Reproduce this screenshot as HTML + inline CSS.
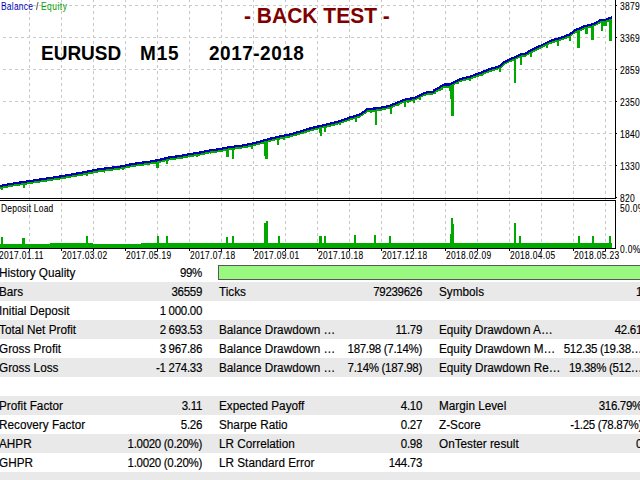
<!DOCTYPE html>
<html><head><meta charset="utf-8"><style>
html,body{margin:0;padding:0;background:#fff;width:640px;height:480px;overflow:hidden;position:relative}
body{font-family:"Liberation Sans",sans-serif;color:#000}
.lb,.vl{-webkit-text-stroke:0.15px #000}
.ax,.dt,.dl{-webkit-text-stroke:0.1px #000}
svg{position:absolute;left:0;top:0}
.ax{position:absolute;left:620px;font-size:10.2px;letter-spacing:0.4px;line-height:12px;white-space:nowrap;transform:scaleX(0.83);transform-origin:0 0}
.dt{position:absolute;top:250px;font-size:10px;letter-spacing:0.4px;line-height:12px;white-space:nowrap;transform:scaleX(0.84);transform-origin:0 0}
.row{position:absolute;left:0;width:640px;height:19px}
.lb{position:absolute;font-size:11.75px;line-height:19px;white-space:nowrap;transform:scaleY(1.125);transform-origin:0 14px}
.vl{position:absolute;width:200px;text-align:right;font-size:11.5px;letter-spacing:-0.3px;line-height:19px;white-space:nowrap;transform:scaleY(1.125);transform-origin:0 14px;margin-top:1px}
.leg{position:absolute;left:1px;top:1px;font-size:10px;line-height:12px;white-space:nowrap;transform:scaleX(0.84);transform-origin:0 0}
.dl{position:absolute;left:1px;top:203px;font-size:10px;letter-spacing:0.3px;line-height:12px;white-space:nowrap;transform:scaleX(0.84);transform-origin:0 0}
.t1{position:absolute;left:244px;top:3px;font-size:21px;font-weight:bold;color:#800000;line-height:24px;white-space:pre;transform:scaleY(1.07);transform-origin:0 8px}
.t2{position:absolute;left:41px;top:42px;font-size:19px;font-weight:bold;line-height:22px;white-space:pre;transform:scaleY(1.077);transform-origin:0 4px}
.bar{position:absolute;left:218px;top:265px;width:430px;height:13px;background:#98f880;border:1px solid #585858}
</style></head><body>
<svg width="640" height="263" viewBox="0 0 640 263" shape-rendering="crispEdges">
<line x1="0" y1="5.5" x2="615" y2="5.5" stroke="#c8c8c8" stroke-dasharray="3 3" stroke-dashoffset="-3"/>
<line x1="0" y1="37.5" x2="615" y2="37.5" stroke="#c8c8c8" stroke-dasharray="3 3" stroke-dashoffset="-3"/>
<line x1="0" y1="69.5" x2="615" y2="69.5" stroke="#c8c8c8" stroke-dasharray="3 3" stroke-dashoffset="-3"/>
<line x1="0" y1="101.5" x2="615" y2="101.5" stroke="#c8c8c8" stroke-dasharray="3 3" stroke-dashoffset="-3"/>
<line x1="0" y1="133.5" x2="615" y2="133.5" stroke="#c8c8c8" stroke-dasharray="3 3" stroke-dashoffset="-3"/>
<line x1="0" y1="165.5" x2="615" y2="165.5" stroke="#c8c8c8" stroke-dasharray="3 3" stroke-dashoffset="-3"/>
<line x1="29.5" y1="-1" x2="29.5" y2="248" stroke="#c8c8c8" stroke-dasharray="3 3"/>
<line x1="61.5" y1="-1" x2="61.5" y2="248" stroke="#c8c8c8" stroke-dasharray="3 3"/>
<line x1="93.5" y1="-1" x2="93.5" y2="248" stroke="#c8c8c8" stroke-dasharray="3 3"/>
<line x1="125.5" y1="-1" x2="125.5" y2="248" stroke="#c8c8c8" stroke-dasharray="3 3"/>
<line x1="157.5" y1="-1" x2="157.5" y2="248" stroke="#c8c8c8" stroke-dasharray="3 3"/>
<line x1="189.5" y1="-1" x2="189.5" y2="248" stroke="#c8c8c8" stroke-dasharray="3 3"/>
<line x1="221.5" y1="-1" x2="221.5" y2="248" stroke="#c8c8c8" stroke-dasharray="3 3"/>
<line x1="253.5" y1="-1" x2="253.5" y2="248" stroke="#c8c8c8" stroke-dasharray="3 3"/>
<line x1="285.5" y1="-1" x2="285.5" y2="248" stroke="#c8c8c8" stroke-dasharray="3 3"/>
<line x1="317.5" y1="-1" x2="317.5" y2="248" stroke="#c8c8c8" stroke-dasharray="3 3"/>
<line x1="349.5" y1="-1" x2="349.5" y2="248" stroke="#c8c8c8" stroke-dasharray="3 3"/>
<line x1="381.5" y1="-1" x2="381.5" y2="248" stroke="#c8c8c8" stroke-dasharray="3 3"/>
<line x1="413.5" y1="-1" x2="413.5" y2="248" stroke="#c8c8c8" stroke-dasharray="3 3"/>
<line x1="445.5" y1="-1" x2="445.5" y2="248" stroke="#c8c8c8" stroke-dasharray="3 3"/>
<line x1="477.5" y1="-1" x2="477.5" y2="248" stroke="#c8c8c8" stroke-dasharray="3 3"/>
<line x1="509.5" y1="-1" x2="509.5" y2="248" stroke="#c8c8c8" stroke-dasharray="3 3"/>
<line x1="541.5" y1="-1" x2="541.5" y2="248" stroke="#c8c8c8" stroke-dasharray="3 3"/>
<line x1="573.5" y1="-1" x2="573.5" y2="248" stroke="#c8c8c8" stroke-dasharray="3 3"/>
<line x1="605.5" y1="-1" x2="605.5" y2="248" stroke="#c8c8c8" stroke-dasharray="3 3"/>
<polygon points="0,186 10,184 20,182.5 30,181 40,179.5 50,178 60,176.5 70,174.75 80,173 90,171 100,169.1 110,167.9 120,166.6 130,164.5 140,162.9 150,161.6 160,159.75 170,157.25 180,156 190,154.1 200,152.5 210,150.4 220,149.1 230,147 240,145.9 250,144.1 260,141.6 270,138.75 280,136.4 290,134.5 300,131.6 310,128.5 320,126 330,123.75 340,121 350,117.5 360,114.5 365,111 367,109.1 375,108.5 380,107.9 390,105.75 400,101.5 404,99.9 408,99 414,98 418,96.2 424,93 428,92.1 433,92.1 434,90.25 438,88.4 442,85.6 445,84.5 450,84.5 455,81.6 460,79.1 470,76.6 480,73 490,69.1 500,66 505,61.6 510,59.1 515,57.25 520,54.5 525,54.1 530,50.75 540,46 550,41 560,38 565,36.3 570,34.25 575,30.2 580,28.3 585,26 590,25 595,23.2 600,20.4 605,19.9 610,18 612,17.4 612,20.4 610,21 605,22.9 600,23.4 595,26.2 590,28 585,29 580,31.3 575,33.2 570,37.25 565,39.3 560,41 550,44 540,49 530,53.75 525,57.1 520,57.5 515,60.25 510,62.1 505,64.6 500,69 490,72.1 480,76 470,79.6 460,82.1 455,84.6 450,87.5 445,87.5 442,88.6 438,91.4 434,93.25 433,95.1 428,95.1 424,96 418,99.2 414,101 408,102 404,102.9 400,104.5 390,108.75 380,110.9 375,111.5 367,112.1 365,114 360,117.5 350,120.5 340,124 330,126.75 320,129 310,131.5 300,134.6 290,137.5 280,139.4 270,141.75 260,144.6 250,147.1 240,148.9 230,150 220,152.1 210,153.4 200,155.5 190,157.1 180,159 170,160.25 160,162.75 150,164.6 140,165.9 130,167.5 120,169.6 110,170.9 100,172.1 90,174 80,176 70,177.75 60,179.5 50,181 40,182.5 30,184 20,185.5 10,187 0,189" fill="#00a800"/>
<rect x="1" y="185.80" width="2" height="4.20" fill="#00a800"/>
<rect x="23" y="182.05" width="2" height="5.95" fill="#00a800"/>
<rect x="31" y="180.85" width="2" height="3.15" fill="#00a800"/>
<rect x="86" y="171.80" width="2" height="4.20" fill="#00a800"/>
<rect x="90" y="171.00" width="1" height="3.00" fill="#00a800"/>
<rect x="104" y="168.62" width="1" height="3.88" fill="#00a800"/>
<rect x="122" y="166.18" width="2" height="3.32" fill="#00a800"/>
<rect x="143" y="162.51" width="1" height="3.49" fill="#00a800"/>
<rect x="156" y="160.49" width="3" height="7.01" fill="#00a800"/>
<rect x="166" y="158.25" width="2" height="5.50" fill="#00a800"/>
<rect x="175" y="156.62" width="1" height="2.88" fill="#00a800"/>
<rect x="182" y="155.62" width="1" height="2.98" fill="#00a800"/>
<rect x="196" y="153.14" width="2" height="3.86" fill="#00a800"/>
<rect x="210" y="150.40" width="1" height="4.00" fill="#00a800"/>
<rect x="226" y="147.84" width="3" height="9.16" fill="#00a800"/>
<rect x="232" y="146.78" width="2" height="11.97" fill="#00a800"/>
<rect x="251" y="143.85" width="2" height="4.65" fill="#00a800"/>
<rect x="264" y="140.46" width="1" height="15.14" fill="#00a800"/>
<rect x="265" y="140.18" width="3" height="18.57" fill="#00a800"/>
<rect x="274" y="137.81" width="1" height="1.19" fill="#00a800"/>
<rect x="277" y="137.11" width="2" height="7.64" fill="#00a800"/>
<rect x="283" y="135.83" width="2" height="3.92" fill="#00a800"/>
<rect x="298" y="132.18" width="2" height="2.32" fill="#00a800"/>
<rect x="309" y="128.81" width="2" height="2.59" fill="#00a800"/>
<rect x="319" y="126.25" width="1" height="6.25" fill="#00a800"/>
<rect x="320" y="126.00" width="2" height="9.60" fill="#00a800"/>
<rect x="324" y="125.10" width="2" height="6.90" fill="#00a800"/>
<rect x="339" y="121.28" width="2" height="3.47" fill="#00a800"/>
<rect x="355" y="116.00" width="2" height="5.50" fill="#00a800"/>
<rect x="370" y="108.88" width="2" height="3.62" fill="#00a800"/>
<rect x="375" y="108.50" width="2" height="16.25" fill="#00a800"/>
<rect x="390" y="105.75" width="2" height="8.65" fill="#00a800"/>
<rect x="398" y="102.35" width="1" height="3.65" fill="#00a800"/>
<rect x="404" y="99.90" width="2" height="6.85" fill="#00a800"/>
<rect x="407" y="99.22" width="2" height="3.48" fill="#00a800"/>
<rect x="413" y="98.17" width="2" height="4.53" fill="#00a800"/>
<rect x="419" y="95.67" width="2" height="3.93" fill="#00a800"/>
<rect x="434" y="90.25" width="2" height="3.35" fill="#00a800"/>
<rect x="438" y="88.40" width="3" height="3.00" fill="#00a800"/>
<rect x="441" y="86.30" width="2" height="3.30" fill="#00a800"/>
<rect x="445" y="84.50" width="8" height="3.90" fill="#00a800"/>
<rect x="449" y="84.50" width="4" height="6.50" fill="#00a800"/>
<rect x="450" y="84.50" width="4" height="14.50" fill="#00a800"/>
<rect x="451" y="83.92" width="3" height="32.48" fill="#00a800"/>
<rect x="457" y="80.60" width="2" height="3.15" fill="#00a800"/>
<rect x="469" y="76.85" width="2" height="4.40" fill="#00a800"/>
<rect x="472" y="75.88" width="1" height="2.12" fill="#00a800"/>
<rect x="481" y="72.61" width="2" height="3.64" fill="#00a800"/>
<rect x="491" y="68.79" width="1" height="2.21" fill="#00a800"/>
<rect x="499" y="66.31" width="2" height="5.19" fill="#00a800"/>
<rect x="510" y="59.10" width="6" height="0.90" fill="#00a800"/>
<rect x="514" y="57.62" width="2" height="24.88" fill="#00a800"/>
<rect x="520" y="54.50" width="2" height="10.25" fill="#00a800"/>
<rect x="530" y="50.75" width="2" height="5.75" fill="#00a800"/>
<rect x="546" y="43.00" width="2" height="4.50" fill="#00a800"/>
<rect x="557" y="38.90" width="2" height="6.70" fill="#00a800"/>
<rect x="569" y="34.66" width="2" height="5.84" fill="#00a800"/>
<rect x="577" y="29.44" width="3" height="18.16" fill="#00a800"/>
<rect x="585" y="26.00" width="3" height="7.75" fill="#00a800"/>
<rect x="591" y="24.64" width="3" height="15.06" fill="#00a800"/>
<rect x="601" y="20.30" width="2" height="10.30" fill="#00a800"/>
<rect x="601" y="20.30" width="6" height="5.70" fill="#00a800"/>
<rect x="609" y="18.38" width="3" height="22.12" fill="#00a800"/>
<polyline points="0,186 10,184 20,182.5 30,181 40,179.5 50,178 60,176.5 70,174.75 80,173 90,171 100,169.1 110,167.9 120,166.6 130,164.5 140,162.9 150,161.6 160,159.75 170,157.25 180,156 190,154.1 200,152.5 210,150.4 220,149.1 230,147 240,145.9 250,144.1 260,141.6 270,138.75 280,136.4 290,134.5 300,131.6 310,128.5 320,126 330,123.75 340,121 350,117.5 360,114.5 365,111 367,109.1 375,108.5 380,107.9 390,105.75 400,101.5 404,99.9 408,99 414,98 418,96.2 424,93 428,92.1 433,92.1 434,90.25 438,88.4 442,85.6 445,84.5 450,84.5 455,81.6 460,79.1 470,76.6 480,73 490,69.1 500,66 505,61.6 510,59.1 515,57.25 520,54.5 525,54.1 530,50.75 540,46 550,41 560,38 565,36.3 570,34.25 575,30.2 580,28.3 585,26 590,25 595,23.2 600,20.4 605,19.9 610,18 612,17.4" fill="none" stroke="#0000b4" stroke-width="2.2" stroke-linejoin="round"/>
<rect x="0" y="244" width="50" height="4" fill="#00a800"/>
<rect x="50" y="243" width="43" height="5" fill="#00a800"/>
<rect x="93" y="244" width="48" height="4" fill="#00a800"/>
<rect x="141" y="243" width="471" height="5" fill="#00a800"/>
<rect x="1" y="237" width="2" height="11" fill="#00a800"/>
<rect x="22" y="238" width="3" height="10" fill="#00a800"/>
<rect x="86" y="236" width="2" height="12" fill="#00a800"/>
<rect x="157" y="236" width="2" height="12" fill="#00a800"/>
<rect x="166" y="236" width="2" height="12" fill="#00a800"/>
<rect x="226" y="237" width="2" height="11" fill="#00a800"/>
<rect x="232" y="236" width="2" height="12" fill="#00a800"/>
<rect x="264" y="223" width="2" height="25" fill="#00a800"/>
<rect x="266" y="221" width="2" height="27" fill="#00a800"/>
<rect x="278" y="236" width="2" height="12" fill="#00a800"/>
<rect x="319" y="236" width="2" height="12" fill="#00a800"/>
<rect x="321" y="236" width="1" height="12" fill="#00a800"/>
<rect x="324" y="236" width="2" height="12" fill="#00a800"/>
<rect x="354" y="235" width="2" height="13" fill="#00a800"/>
<rect x="374" y="235" width="2" height="13" fill="#00a800"/>
<rect x="389" y="236" width="2" height="12" fill="#00a800"/>
<rect x="450" y="234" width="1" height="14" fill="#00a800"/>
<rect x="451" y="218" width="2" height="30" fill="#00a800"/>
<rect x="453" y="224" width="1" height="24" fill="#00a800"/>
<rect x="514" y="223" width="2" height="25" fill="#00a800"/>
<rect x="519" y="236" width="2" height="12" fill="#00a800"/>
<rect x="578" y="236" width="2" height="12" fill="#00a800"/>
<rect x="592" y="236" width="2" height="12" fill="#00a800"/>
<rect x="609" y="236" width="2" height="12" fill="#00a800"/>
<rect x="0" y="198" width="616" height="1" fill="#000"/>
<rect x="0" y="200" width="616" height="1" fill="#000"/>
<rect x="0" y="248" width="616" height="1" fill="#000"/>
<rect x="615" y="0" width="1" height="199" fill="#000"/>
<rect x="615" y="200" width="1" height="49" fill="#000"/>
<rect x="616" y="5" width="1" height="1" fill="#000"/>
<rect x="616" y="37" width="1" height="1" fill="#000"/>
<rect x="616" y="69" width="1" height="1" fill="#000"/>
<rect x="616" y="101" width="1" height="1" fill="#000"/>
<rect x="616" y="133" width="1" height="1" fill="#000"/>
<rect x="616" y="165" width="1" height="1" fill="#000"/>
<rect x="616" y="197" width="1" height="1" fill="#000"/>
<rect x="29" y="249" width="1" height="2" fill="#000"/>
<rect x="61" y="249" width="1" height="2" fill="#000"/>
<rect x="93" y="249" width="1" height="2" fill="#000"/>
<rect x="125" y="249" width="1" height="2" fill="#000"/>
<rect x="157" y="249" width="1" height="2" fill="#000"/>
<rect x="189" y="249" width="1" height="2" fill="#000"/>
<rect x="221" y="249" width="1" height="2" fill="#000"/>
<rect x="253" y="249" width="1" height="2" fill="#000"/>
<rect x="285" y="249" width="1" height="2" fill="#000"/>
<rect x="317" y="249" width="1" height="2" fill="#000"/>
<rect x="349" y="249" width="1" height="2" fill="#000"/>
<rect x="381" y="249" width="1" height="2" fill="#000"/>
<rect x="413" y="249" width="1" height="2" fill="#000"/>
<rect x="445" y="249" width="1" height="2" fill="#000"/>
<rect x="477" y="249" width="1" height="2" fill="#000"/>
<rect x="509" y="249" width="1" height="2" fill="#000"/>
<rect x="541" y="249" width="1" height="2" fill="#000"/>
<rect x="573" y="249" width="1" height="2" fill="#000"/>
<rect x="605" y="249" width="1" height="2" fill="#000"/>
</svg>
<div class="leg" style="color:#0000b8;letter-spacing:0.3px">Balance</div><div class="leg" style="left:36px">/</div><div class="leg" style="left:41px;color:#00a000;letter-spacing:0.6px">Equity</div>
<div class="t1">- BACK TEST -</div>
<div class="t2">EURUSD</div><div class="t2" style="left:140px;letter-spacing:0.8px">M15</div><div class="t2" style="left:209px;letter-spacing:0.5px">2017-2018</div>
<div class="dl">Deposit Load</div>
<div class="ax" style="top:1px">3879</div>
<div class="ax" style="top:33px">3369</div>
<div class="ax" style="top:65px">2859</div>
<div class="ax" style="top:97px">2350</div>
<div class="ax" style="top:129px">1840</div>
<div class="ax" style="top:161px">1330</div>
<div class="ax" style="top:193px">820</div>
<div class="ax" style="top:202.5px">50.0%</div>
<div class="ax" style="top:244px">0.0%</div>
<div class="dt" style="left:-1px">2017.01.11</div>
<div class="dt" style="left:62px">2017.03.02</div>
<div class="dt" style="left:126px">2017.05.19</div>
<div class="dt" style="left:190px">2017.07.18</div>
<div class="dt" style="left:254px">2017.09.01</div>
<div class="dt" style="left:318px">2017.10.18</div>
<div class="dt" style="left:382px">2017.12.18</div>
<div class="dt" style="left:446px">2018.02.09</div>
<div class="dt" style="left:510px">2018.04.05</div>
<div class="dt" style="left:574px">2018.05.23</div>
<div class="lb" style="top:263px;left:-1px">History Quality</div>
<div class="vl" style="top:263px;left:2px">99%</div>
<div class="row" style="top:282px;background:#e9e9e9"></div>
<div class="lb" style="top:282px;left:-1px">Bars</div>
<div class="vl" style="top:282px;left:2px">36559</div>
<div class="lb" style="top:282px;left:219px">Ticks</div>
<div class="vl" style="top:282px;left:222px">79239626</div>
<div class="lb" style="top:282px;left:439px">Symbols</div>
<div class="vl" style="top:282px;left:442px">1</div>
<div class="lb" style="top:301px;left:-1px">Initial Deposit</div>
<div class="vl" style="top:301px;left:2px">1 000.00</div>
<div class="row" style="top:320px;background:#e9e9e9"></div>
<div class="lb" style="top:320px;left:-1px">Total Net Profit</div>
<div class="vl" style="top:320px;left:2px">2 693.53</div>
<div class="lb" style="top:320px;left:219px">Balance Drawdown …</div>
<div class="vl" style="top:320px;left:222px">11.79</div>
<div class="lb" style="top:320px;left:439px">Equity Drawdown A…</div>
<div class="vl" style="top:320px;left:442px">42.61</div>
<div class="lb" style="top:339px;left:-1px">Gross Profit</div>
<div class="vl" style="top:339px;left:2px">3 967.86</div>
<div class="lb" style="top:339px;left:219px">Balance Drawdown …</div>
<div class="vl" style="top:339px;left:222px">187.98 (7.14%)</div>
<div class="lb" style="top:339px;left:439px">Equity Drawdown M…</div>
<div class="vl" style="top:339px;left:442px">512.35 (19.38…</div>
<div class="row" style="top:358px;background:#e9e9e9"></div>
<div class="lb" style="top:358px;left:-1px">Gross Loss</div>
<div class="vl" style="top:358px;left:2px">-1 274.33</div>
<div class="lb" style="top:358px;left:219px">Balance Drawdown …</div>
<div class="vl" style="top:358px;left:222px">7.14% (187.98)</div>
<div class="lb" style="top:358px;left:439px">Equity Drawdown Re…</div>
<div class="vl" style="top:358px;left:442px">19.38% (512…</div>
<div class="row" style="top:396px;background:#e9e9e9"></div>
<div class="lb" style="top:396px;left:-1px">Profit Factor</div>
<div class="vl" style="top:396px;left:2px">3.11</div>
<div class="lb" style="top:396px;left:219px">Expected Payoff</div>
<div class="vl" style="top:396px;left:222px">4.10</div>
<div class="lb" style="top:396px;left:439px">Margin Level</div>
<div class="vl" style="top:396px;left:442px">316.79%</div>
<div class="lb" style="top:415px;left:-1px">Recovery Factor</div>
<div class="vl" style="top:415px;left:2px">5.26</div>
<div class="lb" style="top:415px;left:219px">Sharpe Ratio</div>
<div class="vl" style="top:415px;left:222px">0.27</div>
<div class="lb" style="top:415px;left:439px">Z-Score</div>
<div class="vl" style="top:415px;left:442px">-1.25 (78.87%)</div>
<div class="row" style="top:434px;background:#e9e9e9"></div>
<div class="lb" style="top:434px;left:-1px">AHPR</div>
<div class="vl" style="top:434px;left:2px">1.0020 (0.20%)</div>
<div class="lb" style="top:434px;left:219px">LR Correlation</div>
<div class="vl" style="top:434px;left:222px">0.98</div>
<div class="lb" style="top:434px;left:439px">OnTester result</div>
<div class="vl" style="top:434px;left:442px">0</div>
<div class="lb" style="top:453px;left:-1px">GHPR</div>
<div class="vl" style="top:453px;left:2px">1.0020 (0.20%)</div>
<div class="lb" style="top:453px;left:219px">LR Standard Error</div>
<div class="vl" style="top:453px;left:222px">144.73</div>
<div class="row" style="top:472px;background:#e9e9e9"></div>
<div class="bar"></div>
</body></html>
